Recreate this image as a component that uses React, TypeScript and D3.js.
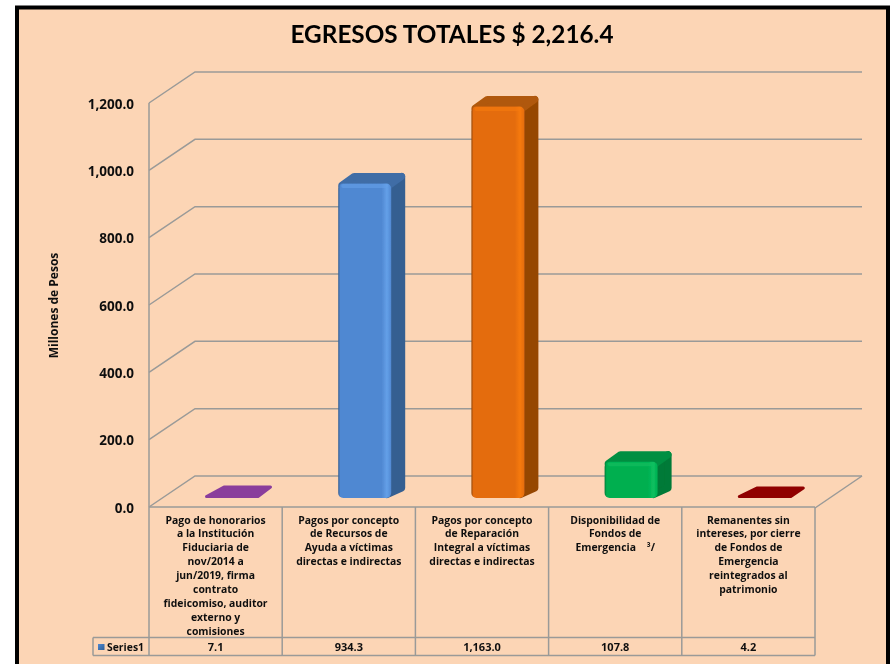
import React from "react";
import * as d3 from "d3";

const categories = ["Pago de honorarios", "Pagos por concepto de Recursos", "Pagos por concepto de Reparación", "Disponibilidad", "Remanentes"];
const categoryLines = [
  ["Pago de honorarios", "a la Institución", "Fiduciaria de", "nov/2014 a", "jun/2019, firma", "contrato", "fideicomiso, auditor", "externo y", "comisiones"],
  ["Pagos por concepto", "de Recursos de", "Ayuda a víctimas", "directas e indirectas"],
  ["Pagos por concepto", "de Reparación", "Integral a víctimas", "directas e indirectas"],
  ["Disponibilidad de", "Fondos de", "Emergencia \u00A0\u00A0\u00A0³/"],
  ["Remanentes sin", "intereses, por cierre", "de Fondos de", "Emergencia", "reintegrados al", "patrimonio"],
];
const values = [7.1, 934.3, 1163.0, 107.8, 4.2];
const valueLabels = ["7.1", "934.3", "1,163.0", "107.8", "4.2"];
const yTicks = [0, 200, 400, 600, 800, 1000, 1200];
const frontColors = ["#8A3E9C", "#5088D2", "#E46C0A", "#00AF50", "#900000"];
const lightColors = ["#A050B4", "#64A0E8", "#F67A0C", "#0CC060", "#B00808"];
const sideColors = ["#8A3E9C", "#365F91", "#964706", "#007A37", "#900000"];
const topColors = ["#8A3E9C", "#3F6DA6", "#B05808", "#008F42", "#900000"];

const FONT = "Lato, Carlito, sans-serif";
const LABEL_FONT = "'Open Sans', sans-serif";
const x0 = 149, x1 = 815;
const y0 = 507, y1 = 103;
const dx = 46, dy = -31;
const axisColor = "#9A9A98";

export default function App() {
  const y = d3.scaleLinear().domain([0, 1200]).range([y0, y1]);
  const x = d3.scaleBand<string>().domain(categories).range([x0, x1]);
  const cw = x.bandwidth();
  const barW = 53;
  const barDx = 14, barDy = -10;
  const barOffX = 56, barBase = 9;
  const r = 3.5;

  return (
    <svg width={892} height={664} style={{ position: "absolute", left: 0, top: 0, display: "block" }} xmlns="http://www.w3.org/2000/svg">
      <defs>
        <filter id="soft" x="-2%" y="-2%" width="104%" height="104%">
          <feGaussianBlur stdDeviation="0.4" />
        </filter>
        <linearGradient id="swatch" x1="0" x2="1" y1="0" y2="1">
          <stop offset="0" stopColor="#5088D2" />
          <stop offset="1" stopColor="#2F5F96" />
        </linearGradient>
        {frontColors.map((c, i) => (
          <linearGradient key={i} id={`f${i}`} x1="0" x2="1" y1="0" y2="0">
            <stop offset="0" stopColor={sideColors[i]} />
            <stop offset="0.04" stopColor={c} />
            <stop offset="0.82" stopColor={c} />
            <stop offset="0.92" stopColor={lightColors[i]} />
            <stop offset="1" stopColor={c} />
          </linearGradient>
        ))}
      </defs>
      <rect x={0} y={0} width={892} height={664} fill="#fff" />
      <g filter="url(#soft)">
        <rect x={17} y={7.5} width={871} height={670} fill="#FCD5B5" stroke="#000" strokeWidth={4} />

        <text x={452} y={43} textAnchor="middle" fontFamily={FONT} fontWeight={700} fontSize={25} fill="#000" textLength={323} lengthAdjust="spacingAndGlyphs">EGRESOS TOTALES $ 2,216.4</text>

        {/* walls and gridlines */}
        <g stroke={axisColor} strokeWidth={1.5} fill="none">
          {yTicks.map((t) => (
            <polyline key={t} points={`${x0},${y(t)} ${x0 + dx},${y(t) + dy} ${x1 + dx + 1},${y(t) + dy}`} />
          ))}
          <line x1={x0} x2={x0} y1={y1} y2={y0} />
          <polyline points={`${x1},${y0 + 1} ${x1 + dx + 1},${y0 + dy}`} />
        </g>

        {/* axis tick labels */}
        {yTicks.map((t) => (
          <text key={t} x={134} y={y(t) + 5.5} textAnchor="end" fontFamily={LABEL_FONT} fontWeight={700} fontSize={13.5} fill="#111">{d3.format(",.1f")(t)}</text>
        ))}
        <text transform="translate(57.5,305.5) rotate(-90)" textAnchor="middle" fontFamily={LABEL_FONT} fontWeight={700} fontSize={12} fill="#111">Millones de Pesos</text>

        {/* bars */}
        {categories.map((c, i) => {
          const left = (x(c) as number) + barOffX;
          const right = left + barW;
          const base = y0 - barBase;
          const top = y(values[i]) - barBase;
          const h = base - top;
          if (h < 10) {
            const upper = top + barDy;
            const flat = `M${left + 1.5},${base - 1.5}L${left + 19},${upper + 1.5}L${right + barDx - 1.5},${upper + 1.5}L${right},${base - 1.5}Z`;
            return <path key={c} d={flat} fill={frontColors[i]} stroke={frontColors[i]} strokeWidth={3} strokeLinejoin="round" />;
          }
          const side = `M${right - 4},${top + 3}L${right + barDx - r},${top + barDy + r - 0.5}L${right + barDx - r},${base + barDy}L${right - 4},${base - r}Z`;
          const roof = `M${left + r},${top + 2}L${left + barDx + 2},${top + barDy + r - 0.5}L${right + barDx - r},${top + barDy + r - 0.5}L${right - 2},${top + 2}Z`;
          return (
            <g key={c}>
              <path d={side} fill={sideColors[i]} stroke={sideColors[i]} strokeWidth={r * 2} strokeLinejoin="round" />
              <path d={roof} fill={topColors[i]} stroke={topColors[i]} strokeWidth={r * 2} strokeLinejoin="round" />
              <rect x={left} y={top} width={barW} height={h} rx={5} fill={`url(#f${i})`} />
              <rect x={left + 3} y={top + 0.5} width={barW - 6} height={4} rx={2} fill={lightColors[i]} opacity={0.6} />
            </g>
          );
        })}

        {/* data table */}
        <g stroke={axisColor} strokeWidth={1.5} fill="none">
          <line x1={x0} x2={x1} y1={y0} y2={y0} />
          <line x1={93} x2={x1} y1={637.5} y2={637.5} />
          <line x1={93} x2={x1} y1={655.5} y2={655.5} />
          <line x1={93} x2={93} y1={637.5} y2={655.5} />
          {categories.map((c) => (
            <line key={c} x1={x(c)} x2={x(c)} y1={y0} y2={655.5} />
          ))}
          <line x1={x1} x2={x1} y1={y0} y2={655.5} />
        </g>
        {categories.map((c, i) => {
          const cx = (x(c) as number) + cw / 2;
          return (
            <g key={c} fontFamily={LABEL_FONT} fontWeight={700} fill="#111" textAnchor="middle">
              {categoryLines[i].map((l, k) => (
                <text key={k} x={cx} y={523.5 + k * 13.9} fontSize={10.4} xmlSpace="preserve">{l}</text>
              ))}
              <text x={cx} y={650.5} fontSize={11}>{valueLabels[i]}</text>
            </g>
          );
        })}
        <rect x={98} y={644} width={6.5} height={6} fill="url(#swatch)" />
        <text x={107} y={650.5} fontFamily={LABEL_FONT} fontWeight={700} fontSize={10.4} fill="#111">Series1</text>
      </g>
    </svg>
  );
}
